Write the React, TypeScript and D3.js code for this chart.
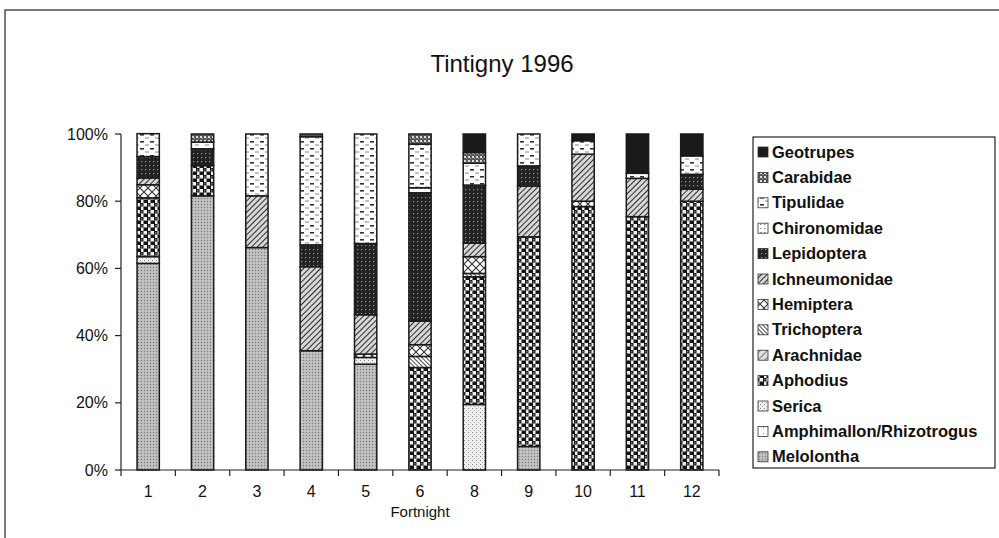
import React from 'react';
import * as d3 from 'd3';

const fortnights = ['1', '2', '3', '4', '5', '6', '8', '9', '10', '11', '12'];

// stacking order, bottom to top
const taxa = [
    'Melolontha', 'Amphimallon/Rhizotrogus', 'Serica', 'Aphodius', 'Arachnidae',
    'Trichoptera', 'Hemiptera', 'Ichneumonidae', 'Lepidoptera', 'Chironomidae',
    'Tipulidae', 'Carabidae', 'Geotrupes',
];

// percent per fortnight, one array per taxon
const melolontha = [61.5, 81.6, 66.2, 35.5, 31.5, 0, 0, 7, 0, 0, 0];
const amphimallon = [0, 0, 0, 0, 0, 0, 0, 0, 0, 0, 0];
const serica = [2, 0, 0, 0, 2, 0, 19.5, 0, 0, 0, 0];
const aphodius = [17.5, 9, 0, 0, 0, 30.5, 38, 62.4, 78.4, 75.4, 80];
const arachnidae = [0, 0, 0, 0, 0, 0, 0, 0, 0, 0, 0];
const trichoptera = [0, 0, 0, 0, 0, 3.3, 1, 0, 0, 0, 0];
const hemiptera = [3.9, 0, 0, 0, 1, 3.5, 5, 0, 1.6, 0, 0];
const ichneumonidae = [2, 0, 15.4, 25, 11.7, 7, 4, 15.1, 14, 11.4, 3.6];
const lepidoptera = [6.4, 5, 0, 6.5, 21.2, 38.2, 17.3, 6, 0, 0, 4.4];
const chironomidae = [0, 0, 0, 0, 0, 1.5, 0, 0, 0, 0, 0];
const tipulidae = [6.8, 2, 18.4, 32.2, 32.6, 13, 6.5, 9.5, 4, 1.5, 5.5];
const carabidae = [0, 2.4, 0, 0.8, 0, 3, 3.2, 0, 0, 0, 0];
const geotrupes = [0, 0, 0, 0, 0, 0, 5.5, 0, 2, 11.7, 6.5];

const series = [
    melolontha, amphimallon, serica, aphodius, arachnidae, trichoptera, hemiptera,
    ichneumonidae, lepidoptera, chironomidae, tipulidae, carabidae, geotrupes,
];

const yTicks = [0, 20, 40, 60, 80, 100];

const patternId = (i: number) => `pat${i}`;

const Patterns = () => (
    <defs>
        {/* Melolontha: fine grey dotted */}
        <pattern id={patternId(0)} width="3" height="3" patternUnits="userSpaceOnUse">
            <rect width="3" height="3" fill="#b8b8b8" />
            <rect x="0" y="0" width="1" height="1" fill="#7a7a7a" />
            <rect x="1.5" y="1.5" width="1" height="1" fill="#e4e4e4" />
        </pattern>
        {/* Amphimallon */}
        <pattern id={patternId(1)} width="6" height="6" patternUnits="userSpaceOnUse">
            <rect width="6" height="6" fill="#fff" />
            <rect x="1" y="1" width="1" height="1" fill="#999" />
        </pattern>
        {/* Serica: sparse dots */}
        <pattern id={patternId(2)} width="4" height="4" patternUnits="userSpaceOnUse">
            <rect width="4" height="4" fill="#f0f0f0" />
            <rect x="0" y="0" width="1" height="1" fill="#808080" />
            <rect x="2" y="2" width="1" height="1" fill="#a8a8a8" />
        </pattern>
        {/* Aphodius: checker */}
        <pattern id={patternId(3)} width="7" height="7" patternUnits="userSpaceOnUse">
            <rect width="7" height="7" fill="#f0f0f0" />
            <rect x="0" y="0" width="3.5" height="3.5" fill="#141414" />
            <rect x="3.5" y="3.5" width="3.5" height="3.5" fill="#141414" />
            <rect x="0" y="3.5" width="1" height="3.5" fill="#141414" />
            <rect x="1" y="1" width="1.5" height="1.5" fill="#7a7a7a" />
        </pattern>
        {/* Arachnidae: light hatch */}
        <pattern id={patternId(4)} width="5" height="5" patternUnits="userSpaceOnUse" patternTransform="rotate(45)">
            <rect width="5" height="5" fill="#e0e0e0" />
            <line x1="0" y1="0" x2="0" y2="5" stroke="#666" strokeWidth="1.5" />
        </pattern>
        {/* Trichoptera: dense stripes */}
        <pattern id={patternId(5)} width="3" height="3" patternUnits="userSpaceOnUse" patternTransform="rotate(-45)">
            <rect width="3" height="3" fill="#fff" />
            <line x1="0" y1="0" x2="0" y2="3" stroke="#222" strokeWidth="1.6" />
        </pattern>
        {/* Hemiptera: crosses */}
        <pattern id={patternId(6)} width="8" height="8" patternUnits="userSpaceOnUse">
            <rect width="8" height="8" fill="#fff" />
            <path d="M0,0L8,8M8,0L0,8" stroke="#333" strokeWidth="1.1" />
        </pattern>
        {/* Ichneumonidae: hatch */}
        <pattern id={patternId(7)} width="4" height="4" patternUnits="userSpaceOnUse" patternTransform="rotate(45)">
            <rect width="4" height="4" fill="#d8d8d8" />
            <line x1="0" y1="0" x2="0" y2="4" stroke="#2a2a2a" strokeWidth="2" />
        </pattern>
        {/* Lepidoptera: dark with dots */}
        <pattern id={patternId(8)} width="4" height="4" patternUnits="userSpaceOnUse">
            <rect width="4" height="4" fill="#222" />
            <rect x="1" y="1" width="1.2" height="1.2" fill="#999" />
        </pattern>
        {/* Chironomidae */}
        <pattern id={patternId(9)} width="4" height="4" patternUnits="userSpaceOnUse">
            <rect width="4" height="4" fill="#fff" />
            <rect x="0" y="0" width="1.5" height="1" fill="#888" />
        </pattern>
        {/* Tipulidae: dashes */}
        <pattern id={patternId(10)} width="10" height="7" patternUnits="userSpaceOnUse">
            <rect width="10" height="7" fill="#fff" />
            <rect x="0" y="1" width="4" height="1.6" fill="#333" />
            <rect x="5" y="4.5" width="4" height="1" fill="#888" />
        </pattern>
        {/* Carabidae */}
        <pattern id={patternId(11)} width="4" height="4" patternUnits="userSpaceOnUse">
            <rect width="4" height="4" fill="#555" />
            <rect x="0" y="0" width="2" height="2" fill="#ddd" />
            <rect x="2" y="2" width="1" height="1" fill="#aaa" />
        </pattern>
        {/* Geotrupes: solid */}
        <pattern id={patternId(12)} width="4" height="4" patternUnits="userSpaceOnUse">
            <rect width="4" height="4" fill="#1a1a1a" />
        </pattern>
    </defs>
);

const App = () => {
    const left = 121, right = 719, top = 134, bottom = 470;

    const x = d3.scaleBand().domain(fortnights).range([left, right]).padding(0);
    const y = d3.scaleLinear().domain([0, 100]).range([bottom, top]);
    const barW = x.bandwidth() * 0.41;

    const rows = fortnights.map((f, i) => {
        const r: { [k: string]: number | string } = { fortnight: f };
        taxa.forEach((t, j) => { r[t] = series[j][i]; });
        return r;
    });
    const stacked = d3.stack<any>().keys(taxa)(rows);

    const legendX = 753, legendY = 137, legendW = 242, legendH = 331;
    const legendStep = 25.4;
    const legendOrder = taxa.map((t, i) => i).reverse();

    const font = 'Arial, "Liberation Sans", Helvetica, sans-serif';

    return (
        <svg width={999} height={538} style={{ position: 'absolute', left: 0, top: 0 }} fontFamily={font}>
            <Patterns />
            <rect x={0} y={0} width={999} height={538} fill="#fff" />
            <rect x={5} y={10} width={1000} height={540} fill="none" stroke="#222" strokeWidth={1.2} />

            <text x={502} y={72} textAnchor="middle" fontSize={24} fill="#111">Tintigny 1996</text>

            {stacked.map((layer, j) => (
                <g key={layer.key}>
                    {layer.map((d, i) => {
                        const h = y(d[0]) - y(d[1]);
                        if (h <= 0) return null;
                        return (
                            <rect
                                key={i}
                                x={(x(fortnights[i]) as number) + (x.bandwidth() - barW) / 2}
                                y={y(d[1])}
                                width={barW}
                                height={h}
                                fill={`url(#${patternId(j)})`}
                                stroke="#1a1a1a"
                                strokeWidth={1.5}
                            />
                        );
                    })}
                </g>
            ))}

            {/* y axis */}
            <line x1={left} x2={left} y1={top} y2={bottom} stroke="#222" strokeWidth={1.2} />
            {yTicks.map(t => (
                <g key={t}>
                    <line x1={left - 6} x2={left} y1={y(t)} y2={y(t)} stroke="#222" strokeWidth={1.2} />
                    <text x={left - 13} y={y(t) + 5.5} textAnchor="end" fontSize={16} fill="#111">{t}%</text>
                </g>
            ))}

            {/* x axis */}
            <line x1={left} x2={right} y1={bottom} y2={bottom} stroke="#222" strokeWidth={1.2} />
            {fortnights.map(f => (
                <line key={'t' + f} x1={x(f) as number} x2={x(f) as number} y1={bottom} y2={bottom + 6} stroke="#222" strokeWidth={1.2} />
            ))}
            <line x1={right} x2={right} y1={bottom} y2={bottom + 6} stroke="#222" strokeWidth={1.2} />
            {fortnights.map(f => (
                <text key={'l' + f} x={(x(f) as number) + x.bandwidth() / 2} y={497} textAnchor="middle" fontSize={16} fill="#111">{f}</text>
            ))}
            <text x={(left + right) / 2} y={517} textAnchor="middle" fontSize={15} fill="#111">Fortnight</text>

            {/* legend */}
            <rect x={legendX} y={legendY} width={legendW} height={legendH} fill="#fff" stroke="#222" strokeWidth={1.2} />
            {legendOrder.map((j, k) => {
                const cy = legendY + 15 + k * legendStep;
                return (
                    <g key={taxa[j]}>
                        <rect x={legendX + 5} y={cy - 5} width={10} height={10} fill={`url(#${patternId(j)})`} stroke="#333" strokeWidth={0.8} />
                        <text x={legendX + 19} y={cy + 5.5} fontSize={16.5} fontWeight="bold" fill="#111">{taxa[j]}</text>
                    </g>
                );
            })}
        </svg>
    );
};

export default App;
